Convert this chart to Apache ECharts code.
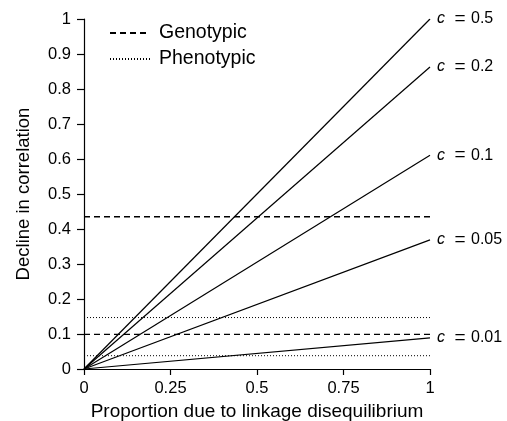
<!DOCTYPE html>
<html>
<head>
<meta charset="utf-8">
<script src="https://cdn.jsdelivr.net/npm/echarts@6/dist/echarts.min.js"></script>
<style>
  html, body { margin: 0; padding: 0; background: #fff; }
  #main { width: 507px; height: 421px; }
</style>
</head>
<body>
<div id="main"></div>
<script>
// values
var xEnds = [0, 1];
var cLabels = ['0.5', '0.2', '0.1', '0.05', '0.01'];
var cSlopes = [1.0, 0.863, 0.611, 0.369, 0.089];
var genotypicLevels = [0.435, 0.099];
var phenotypicLevels = [0.147, 0.038];

var FONT = 'Liberation Sans';
var myChart = echarts.init(document.getElementById('main'));

var series = [];
cSlopes.forEach(function (s, i) {
    series.push({
        name: 'c' + cLabels[i],
        type: 'line',
        symbol: 'none',
        silent: true,
        data: [[xEnds[0], 0], [xEnds[1], s]],
        lineStyle: { color: '#000', width: 1.2 },
        endLabel: {
            show: true,
            formatter: '{i|c} {e|=} ' + cLabels[i],
            color: '#000',
            fontFamily: FONT,
            fontSize: 16,
            distance: 7,
            rich: {
                i: { fontStyle: 'italic', fontFamily: FONT, fontSize: 16, color: '#000' },
                e: { fontFamily: FONT, fontSize: 19, color: '#000', padding: [0, 1, 0, 5] }
            }
        }
    });
});
genotypicLevels.forEach(function (v) {
    series.push({
        name: 'Genotypic',
        type: 'line',
        symbol: 'none',
        data: [[xEnds[0], v], [xEnds[1], v]],
        lineStyle: { color: '#000', width: 1.3, type: [6, 4] },
        itemStyle: { color: '#000' }
    });
});
phenotypicLevels.forEach(function (v) {
    series.push({
        name: 'Phenotypic',
        type: 'line',
        symbol: 'none',
        data: [[xEnds[0], v], [xEnds[1], v]],
        lineStyle: { color: '#000', width: 1, type: [1, 2] },
        itemStyle: { color: '#000' }
    });
});

var option = {
    animation: false,
    backgroundColor: '#fff',
    textStyle: { fontFamily: FONT },
    legend: {
        data: ['Genotypic', 'Phenotypic'],
        orient: 'vertical',
        left: 104,
        top: 18,
        itemWidth: 40,
        itemHeight: 14,
        itemGap: 6,
        itemStyle: { color: 'rgba(0,0,0,0)', borderWidth: 0 },
        textStyle: { fontFamily: FONT, fontSize: 19.5, color: '#000', padding: [0, 0, 0, 4] }
    },
    grid: {
        left: 84, right: 77, top: 19, bottom: 52,
        containLabel: false,
        outerBoundsMode: 'none'
    },
    xAxis: {
        type: 'value',
        min: 0,
        max: 1,
        interval: 0.25,
        name: 'Proportion due to linkage disequilibrium',
        nameLocation: 'middle',
        nameGap: 33,
        nameTextStyle: { fontFamily: FONT, fontSize: 19, color: '#000' },
        axisLine: { lineStyle: { color: '#000', width: 1.2 } },
        axisTick: { inside: false, length: 6, lineStyle: { color: '#000', width: 1.2 } },
        axisLabel: { fontFamily: FONT, fontSize: 16.5, color: '#000', margin: 11 },
        splitLine: { show: false }
    },
    yAxis: {
        type: 'value',
        min: 0,
        max: 1,
        interval: 0.1,
        name: 'Decline in correlation',
        nameLocation: 'middle',
        nameGap: 51,
        nameTextStyle: { fontFamily: FONT, fontSize: 18.5, color: '#000' },
        axisLine: { show: true, lineStyle: { color: '#000', width: 1.2 } },
        axisTick: { show: true, inside: false, length: 7, lineStyle: { color: '#000', width: 1.2 } },
        axisLabel: { inside: false, fontFamily: FONT, fontSize: 16.5, color: '#000', margin: 13 },
        splitLine: { show: false }
    },
    series: series
};
myChart.setOption(option);
</script>
</body>
</html>
